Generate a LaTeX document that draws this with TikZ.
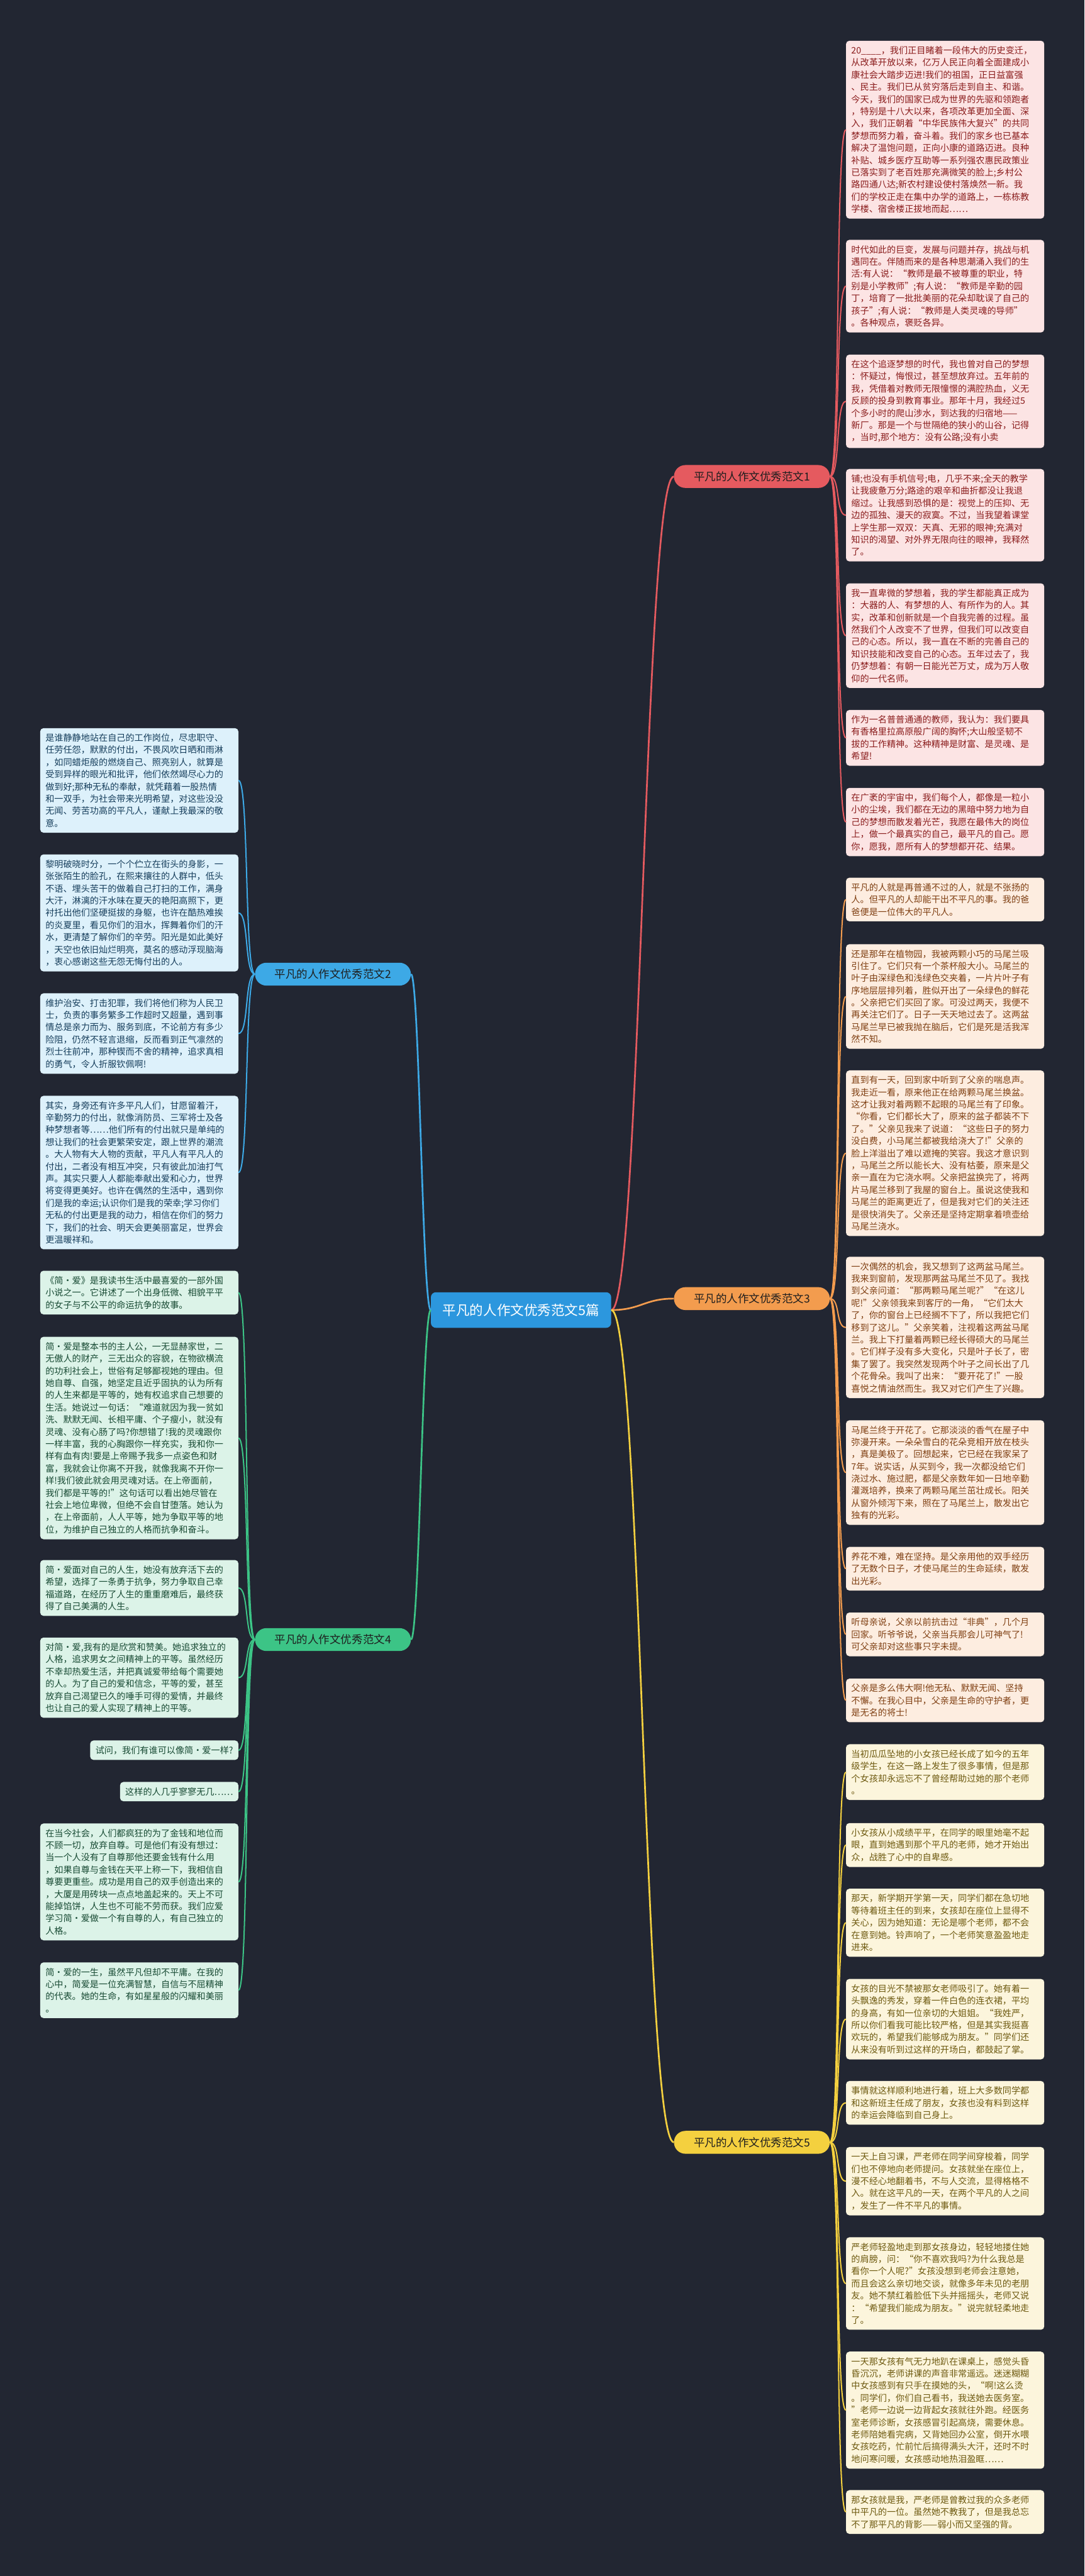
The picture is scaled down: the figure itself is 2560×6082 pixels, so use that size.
\documentclass[tikz,border=0pt]{standalone}
\usepackage{fontspec}
\setmainfont{Noto Sans CJK SC}
\usepackage{tikz}

\definecolor{bgc}{RGB}{34,38,50}
\definecolor{rootc}{RGB}{44,151,222}
\definecolor{cred}{RGB}{229,90,95}
\definecolor{corange}{RGB}{243,156,78}
\definecolor{cyellow}{RGB}{244,208,63}
\definecolor{cblue}{RGB}{61,169,230}
\definecolor{cgreen}{RGB}{60,196,134}
\definecolor{redfill}{RGB}{252,228,228}
\definecolor{redtext}{RGB}{138,28,28}
\definecolor{orfill}{RGB}{253,237,224}
\definecolor{ortext}{RGB}{127,63,18}
\definecolor{yefill}{RGB}{252,245,220}
\definecolor{yetext}{RGB}{110,90,16}
\definecolor{blfill}{RGB}{221,241,251}
\definecolor{bltext}{RGB}{22,62,92}
\definecolor{grfill}{RGB}{220,243,232}
\definecolor{grtext}{RGB}{23,74,51}
\definecolor{fantext}{RGB}{30,30,30}

\begin{document}
\begin{tikzpicture}[x=1pt,y=-1pt,
  leafbase/.style={rounded corners=8pt, inner xsep=12.5pt, inner ysep=13pt, align=left,
    font=\fontsize{21}{28.8}\selectfont},
  leaf/.style={leafbase, text width=443pt},
  redbox/.style={leaf, anchor=north west, fill=redfill, text=redtext},
  orbox/.style={leaf, anchor=north west, fill=orfill, text=ortext},
  yebox/.style={leaf, anchor=north west, fill=yefill, text=yetext},
  blbox/.style={leaf, anchor=north east, fill=blfill, text=bltext},
  grbox/.style={leaf, anchor=north east, fill=grfill, text=grtext},
  root/.style={fill=rootc, text=white, rounded corners=12pt, minimum height=84pt, inner xsep=28pt,
    font=\fontsize{32}{38}\selectfont},
  fan/.style={rounded corners=27pt, minimum height=54pt, minimum width=368pt, text=fantext,
    font=\fontsize{26}{30}\selectfont},
  main/.style={line width=4pt},
  twig/.style={line width=3pt}]

\fill[bgc] (0,0) rectangle (2560,6082);
\useasboundingbox (0,0) rectangle (2560,6082);

\node[root] (root) at (1230,3093) {平凡的人作文优秀范文5篇};
\node[fan, fill=cred] (fan1) at (1775,1125) {平凡的人作文优秀范文1};
\node[fan, fill=cblue] (fan2) at (786,2300) {平凡的人作文优秀范文2};
\node[fan, fill=corange] (fan3) at (1775,3066) {平凡的人作文优秀范文3};
\node[fan, fill=cgreen] (fan4) at (786,3871) {平凡的人作文优秀范文4};
\node[fan, fill=cyellow] (fan5) at (1775,5058) {平凡的人作文优秀范文5};

\node[redbox] (r1) at (1997,96) {20\_\_\_\_，我们正目睹着一段伟大的历史变迁，\\
从改革开放以来，亿万人民正向着全面建成小\\
康社会大踏步迈进!我们的祖国，正日益富强\\
、民主。我们已从贫穷落后走到自主、和谐。\\
今天，我们的国家已成为世界的先驱和领跑者\\
，特别是十八大以来，各项改革更加全面、深\\
入，我们正朝着“中华民族伟大复兴”的共同\\
梦想而努力着，奋斗着。我们的家乡也已基本\\
解决了温饱问题，正向小康的道路迈进。良种\\
补贴、城乡医疗互助等一系列强农惠民政策业\\
已落实到了老百姓那充满微笑的脸上;乡村公\\
路四通八达;新农村建设使村落焕然一新。我\\
们的学校正走在集中办学的道路上，一栋栋教\\
学楼、宿舍楼正拔地而起……};
\node[redbox] (r2) at (1997,566) {时代如此的巨变，发展与问题并存，挑战与机\\
遇同在。伴随而来的是各种思潮涌入我们的生\\
活:有人说：“教师是最不被尊重的职业，特\\
别是小学教师”;有人说：“教师是辛勤的园\\
丁，培育了一批批美丽的花朵却耽误了自己的\\
孩子”;有人说：“教师是人类灵魂的导师”\\
。各种观点，褒贬各异。};
\node[redbox] (r3) at (1997,837) {在这个追逐梦想的时代，我也曾对自己的梦想\\
：怀疑过，悔恨过，甚至想放弃过。五年前的\\
我，凭借着对教师无限憧憬的满腔热血，义无\\
反顾的投身到教育事业。那年十月，我经过5\\
个多小时的爬山涉水，到达我的归宿地——\\
新厂。那是一个与世隔绝的狭小的山谷，记得\\
，当时,那个地方：没有公路;没有小卖};
\node[redbox] (r4) at (1997,1107) {铺;也没有手机信号;电，几乎不来;全天的教学\\
让我疲惫万分;路途的艰辛和曲折都没让我退\\
缩过。让我感到恐惧的是：视觉上的压抑、无\\
边的孤独、漫天的寂寞。不过，当我望着课堂\\
上学生那一双双：天真、无邪的眼神;充满对\\
知识的渴望、对外界无限向往的眼神，我释然\\
了。};
\node[redbox] (r5) at (1997,1377) {我一直卑微的梦想着，我的学生都能真正成为\\
：大器的人、有梦想的人、有所作为的人。其\\
实，改革和创新就是一个自我完善的过程。虽\\
然我们个人改变不了世界，但我们可以改变自\\
己的心态。所以，我一直在不断的完善自己的\\
知识技能和改变自己的心态。五年过去了，我\\
仍梦想着：有朝一日能光芒万丈，成为万人敬\\
仰的一代名师。};
\node[redbox] (r6) at (1997,1676) {作为一名普普通通的教师，我认为：我们要具\\
有香格里拉高原般广阔的胸怀;大山般坚韧不\\
拔的工作精神。这种精神是财富、是灵魂、是\\
希望!};
\node[redbox] (r7) at (1997,1860) {在广袤的宇宙中，我们每个人，都像是一粒小\\
小的尘埃，我们都在无边的黑暗中努力地为自\\
己的梦想而散发着光芒，我愿在最伟大的岗位\\
上，做一个最真实的自己，最平凡的自己。愿\\
你，愿我，愿所有人的梦想都开花、结果。};

\node[orbox] (o1) at (1997,2072) {平凡的人就是再普通不过的人，就是不张扬的\\
人。但平凡的人却能干出不平凡的事。我的爸\\
爸便是一位伟大的平凡人。};
\node[orbox] (o2) at (1997,2229) {还是那年在植物园，我被两颗小巧的马尾兰吸\\
引住了。它们只有一个茶杯般大小。马尾兰的\\
叶子由深绿色和浅绿色交夹着，一片片叶子有\\
序地层层排列着，胜似开出了一朵绿色的鲜花\\
。父亲把它们买回了家。可没过两天，我便不\\
再关注它们了。日子一天天地过去了。这两盆\\
马尾兰早已被我抛在脑后，它们是死是活我浑\\
然不知。};
\node[orbox] (o3) at (1997,2527) {直到有一天，回到家中听到了父亲的喘息声。\\
我走近一看，原来他正在给两颗马尾兰换盆。\\
这才让我对着两颗不起眼的马尾兰有了印象。\\
“你看，它们都长大了，原来的盆子都装不下\\
了。”父亲见我来了说道：“这些日子的努力\\
没白费，小马尾兰都被我给浇大了!”父亲的\\
脸上洋溢出了难以遮掩的笑容。我这才意识到\\
，马尾兰之所以能长大、没有枯萎，原来是父\\
亲一直在为它浇水啊。父亲把盆换完了，将两\\
片马尾兰移到了我屋的窗台上。虽说这使我和\\
马尾兰的距离更近了，但是我对它们的关注还\\
是很快消失了。父亲还是坚持定期拿着喷壶给\\
马尾兰浇水。};
\node[orbox] (o4) at (1997,2967) {一次偶然的机会，我又想到了这两盆马尾兰。\\
我来到窗前，发现那两盆马尾兰不见了。我找\\
到父亲问道：“那两颗马尾兰呢?”“在这儿\\
呢!”父亲领我来到客厅的一角，“它们太大\\
了，你的窗台上已经搁不下了，所以我把它们\\
移到了这儿。”父亲笑着，注视着这两盆马尾\\
兰。我上下打量着两颗已经长得硕大的马尾兰\\
。它们样子没有多大变化，只是叶子长了，密\\
集了罢了。我突然发现两个叶子之间长出了几\\
个花骨朵。我叫了出来：“要开花了!”一股\\
喜悦之情油然而生。我又对它们产生了兴趣。};
\node[orbox] (o5) at (1997,3353) {马尾兰终于开花了。它那淡淡的香气在屋子中\\
弥漫开来。一朵朵雪白的花朵竞相开放在枝头\\
，真是美极了。回想起来，它已经在我家呆了\\
7年。说实话，从买到今，我一次都没给它们\\
浇过水、施过肥，都是父亲数年如一日地辛勤\\
灌溉培养，换来了两颗马尾兰茁壮成长。阳关\\
从窗外倾泻下来，照在了马尾兰上，散发出它\\
独有的光彩。};
\node[orbox] (o6) at (1997,3652) {养花不难，难在坚持。是父亲用他的双手经历\\
了无数个日子，才使马尾兰的生命延续，散发\\
出光彩。};
\node[orbox] (o7) at (1997,3807) {听母亲说，父亲以前抗击过“非典”，几个月\\
回家。听爷爷说，父亲当兵那会儿可神气了!\\
可父亲却对这些事只字未提。};
\node[orbox] (o8) at (1997,3963) {父亲是多么伟大啊!他无私、默默无闻、坚持\\
不懈。在我心目中，父亲是生命的守护者，更\\
是无名的将士!};

\node[yebox] (y1) at (1997,4118) {当初瓜瓜坠地的小女孩已经长成了如今的五年\\
级学生，在这一路上发生了很多事情，但是那\\
个女孩却永远忘不了曾经帮助过她的那个老师\\
。};
\node[yebox] (y2) at (1997,4304) {小女孩从小成绩平平，在同学的眼里她毫不起\\
眼，直到她遇到那个平凡的老师，她才开始出\\
众，战胜了心中的自卑感。};
\node[yebox] (y3) at (1997,4459) {那天，新学期开学第一天，同学们都在急切地\\
等待着班主任的到来，女孩却在座位上显得不\\
关心，因为她知道：无论是哪个老师，都不会\\
在意到她。铃声响了，一个老师笑意盈盈地走\\
进来。};
\node[yebox] (y4) at (1997,4672) {女孩的目光不禁被那女老师吸引了。她有着一\\
头飘逸的秀发，穿着一件白色的连衣裙，平均\\
的身高，有如一位亲切的大姐姐。“我姓严，\\
所以你们看我可能比较严格，但是其实我挺喜\\
欢玩的，希望我们能够成为朋友。”同学们还\\
从来没有听到过这样的开场白，都鼓起了掌。};
\node[yebox] (y5) at (1997,4913) {事情就这样顺利地进行着，班上大多数同学都\\
和这新班主任成了朋友，女孩也没有料到这样\\
的幸运会降临到自己身上。};
\node[yebox] (y6) at (1997,5069) {一天上自习课，严老师在同学间穿梭着，同学\\
们也不停地向老师提问。女孩就坐在座位上，\\
漫不经心地翻着书，不与人交流，显得格格不\\
入。就在这平凡的一天，在两个平凡的人之间\\
，发生了一件不平凡的事情。};
\node[yebox] (y7) at (1997,5282) {严老师轻盈地走到那女孩身边，轻轻地搂住她\\
的肩膀，问：“你不喜欢我吗?为什么我总是\\
看你一个人呢?”女孩没想到老师会注意她，\\
而且会这么亲切地交谈，就像多年未见的老朋\\
友。她不禁红着脸低下头并摇摇头，老师又说\\
：“希望我们能成为朋友。”说完就轻柔地走\\
了。};
\node[yebox] (y8) at (1997,5552) {一天那女孩有气无力地趴在课桌上，感觉头昏\\
昏沉沉，老师讲课的声音非常遥远。迷迷糊糊\\
中女孩感到有只手在摸她的头，“啊!这么烫\\
。同学们，你们自己看书，我送她去医务室。\\
”老师一边说一边背起女孩就往外跑。经医务\\
室老师诊断，女孩感冒引起高烧，需要休息。\\
老师陪她看完病，又背她回办公室，倒开水喂\\
女孩吃药，忙前忙后搞得满头大汗，还时不时\\
地问寒问暖，女孩感动地热泪盈眶……};
\node[yebox] (y9) at (1997,5879) {那女孩就是我，严老师是曾教过我的众多老师\\
中平凡的一位。虽然她不教我了，但是我总忘\\
不了那平凡的背影——弱小而又坚强的背。};

\node[blbox] (b1) at (563,1719) {是谁静静地站在自己的工作岗位，尽忠职守、\\
任劳任怨，默默的付出，不畏风吹日晒和雨淋\\
，如同蜡炬般的燃烧自己、照亮别人，就算是\\
受到异样的眼光和批评，他们依然竭尽心力的\\
做到好;那种无私的奉献，就凭藉着一股热情\\
和一双手，为社会带来光明希望，对这些没没\\
无闻、劳苦功高的平凡人，谨献上我最深的敬\\
意。};
\node[blbox] (b2) at (563,2017) {黎明破晓时分，一个个伫立在街头的身影，一\\
张张陌生的脸孔，在熙来攘往的人群中，低头\\
不语、埋头苦干的做着自己打扫的工作，满身\\
大汗，淋漓的汗水味在夏天的艳阳高照下，更\\
衬托出他们坚硬挺拔的身躯，也许在酷热难挨\\
的炎夏里，看见你们的泪水，挥舞着你们的汗\\
水，更清楚了解你们的辛劳。阳光是如此美好\\
，天空也依旧灿烂明亮，莫名的感动浮现脑海\\
，衷心感谢这些无怨无悔付出的人。};
\node[blbox] (b3) at (563,2345) {维护治安、打击犯罪，我们将他们称为人民卫\\
士，负责的事务繁多工作超时又超量，遇到事\\
情总是亲力而为、服务到底，不论前方有多少\\
险阻，仍然不轻言退缩，反而看到正气凛然的\\
烈士往前冲，那种锲而不舍的精神，追求真相\\
的勇气，令人折服钦佩啊!};
\node[blbox] (b4) at (563,2587) {其实，身旁还有许多平凡人们，甘愿留着汗，\\
辛勤努力的付出，就像消防员、三军将士及各\\
种梦想者等……他们所有的付出就只是单纯的\\
想让我们的社会更繁荣安定，跟上世界的潮流\\
。大人物有大人物的贡献，平凡人有平凡人的\\
付出，二者没有相互冲突，只有彼此加油打气\\
声。其实只要人人都能奉献出爱和心力，世界\\
将变得更美好。也许在偶然的生活中，遇到你\\
们是我的幸运;认识你们是我的荣幸;学习你们\\
无私的付出更是我的动力，相信在你们的努力\\
下，我们的社会、明天会更美丽富足，世界会\\
更温暖祥和。};

\node[grbox] (g1) at (563,3000) {《简·爱》是我读书生活中最喜爱的一部外国\\
小说之一。它讲述了一个出身低微、相貌平平\\
的女子与不公平的命运抗争的故事。};
\node[grbox] (g2) at (563,3156) {简·爱是整本书的主人公，一无显赫家世，二\\
无傲人的财产，三无出众的容貌，在物欲横流\\
的功利社会上，世俗有足够鄙视她的理由。但\\
她自尊、自强，她坚定且近乎固执的认为所有\\
的人生来都是平等的，她有权追求自己想要的\\
生活。她说过一句话：“难道就因为我一贫如\\
洗、默默无闻、长相平庸、个子瘦小，就没有\\
灵魂、没有心肠了吗?你想错了!我的灵魂跟你\\
一样丰富，我的心胸跟你一样充实，我和你一\\
样有血有肉!要是上帝赐予我多一点姿色和财\\
富，我就会让你离不开我，就像我离不开你一\\
样!我们彼此就会用灵魂对话。在上帝面前，\\
我们都是平等的!”这句话可以看出她尽管在\\
社会上地位卑微，但绝不会自甘堕落。她认为\\
，在上帝面前，人人平等，她为争取平等的地\\
位，为维护自己独立的人格而抗争和奋斗。};
\node[grbox] (g3) at (563,3683) {简·爱面对自己的人生，她没有放弃活下去的\\
希望，选择了一条勇于抗争，努力争取自己幸\\
福道路，在经历了人生的重重磨难后，最终获\\
得了自己美满的人生。};
\node[grbox] (g4) at (563,3866) {对简·爱,我有的是欣赏和赞美。她追求独立的\\
人格，追求男女之间精神上的平等。虽然经历\\
不幸却热爱生活，并把真诚爱带给每个需要她\\
的人。为了自己的爱和信念，平等的爱，甚至\\
放弃自己渴望已久的唾手可得的爱情，并最终\\
也让自己的爱人实现了精神上的平等。};
\node[leafbase, anchor=north east, fill=grfill, text=grtext] (g5) at (563,4109) {试问，我们有谁可以像简·爱一样?};
\node[leafbase, anchor=north east, fill=grfill, text=grtext] (g6) at (563,4207) {这样的人几乎寥寥无几……};
\node[grbox] (g7) at (563,4305) {在当今社会，人们都疯狂的为了金钱和地位而\\
不顾一切，放弃自尊。可是他们有没有想过：\\
当一个人没有了自尊那他还要金钱有什么用\\
，如果自尊与金钱在天平上称一下，我相信自\\
尊要更重些。成功是用自己的双手创造出来的\\
，大厦是用砖块一点点地盖起来的。天上不可\\
能掉馅饼，人生也不可能不劳而获。我们应爱\\
学习简·爱做一个有自尊的人，有自己独立的\\
人格。};
\node[grbox] (g8) at (563,4633) {简·爱的一生，虽然平凡但却不平庸。在我的\\
心中，简爱是一位充满智慧，自信与不屈精神\\
的代表。她的生命，有如星星般的闪耀和美丽\\
。};

\draw[main, cred] (root.east) .. controls +(70,0) and +(-70,0) .. (fan1.west);
\draw[main, corange] (root.east) .. controls +(70,0) and +(-70,0) .. (fan3.west);
\draw[main, cyellow] (root.east) .. controls +(70,0) and +(-70,0) .. (fan5.west);
\draw[main, cblue] (root.west) .. controls +(-20,0) and +(20,0) .. (fan2.east);
\draw[main, cgreen] (root.west) .. controls +(-20,0) and +(20,0) .. (fan4.east);

\foreach \i in {1,...,7} \draw[twig, cred] (fan1.east) .. controls +(25,0) and +(-25,0) .. (r\i.west);
\foreach \i in {1,...,8} \draw[twig, corange] (fan3.east) .. controls +(25,0) and +(-25,0) .. (o\i.west);
\foreach \i in {1,...,9} \draw[twig, cyellow] (fan5.east) .. controls +(25,0) and +(-25,0) .. (y\i.west);
\foreach \i in {1,...,4} \draw[twig, cblue] (fan2.west) .. controls +(-25,0) and +(25,0) .. (b\i.east);
\foreach \i in {1,...,8} \draw[twig, cgreen] (fan4.west) .. controls +(-25,0) and +(25,0) .. (g\i.east);
\end{tikzpicture}
\end{document}
